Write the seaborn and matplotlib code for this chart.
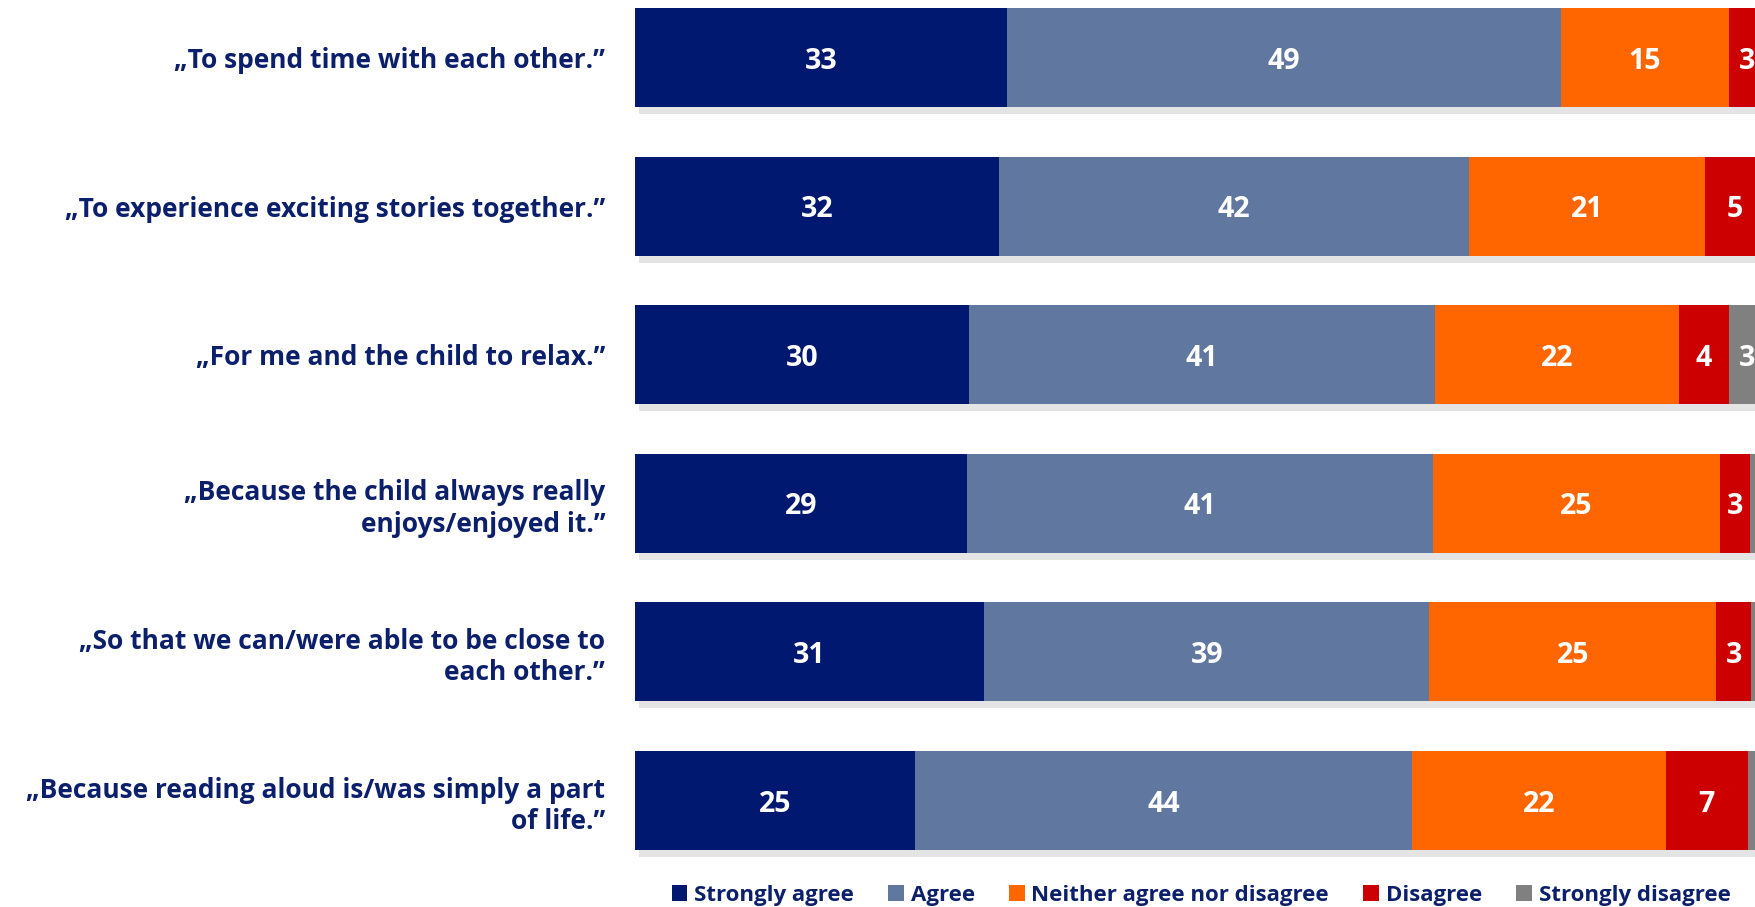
import matplotlib
matplotlib.use('Agg')
import matplotlib.pyplot as plt
import matplotlib.patheffects as pe
from matplotlib.patches import Patch
from matplotlib import font_manager
import numpy as np
import seaborn as sns

# data (percent)
statements = ['\u201eTo spend time with each other.\u201d',
              '\u201eTo experience exciting stories together.\u201d',
              '\u201eFor me and the child to relax.\u201d',
              '\u201eBecause the child always really\nenjoys/enjoyed it.\u201d',
              '\u201eSo that we can/were able to be close to\neach other.\u201d',
              '\u201eBecause reading aloud is/was simply a part\nof life.\u201d']
strongly_agree = [32.9, 32.2, 29.6, 29.4, 30.9, 24.8]
agree = [49.0, 41.6, 41.2, 41.2, 39.4, 44.0]
neither = [14.9, 20.9, 21.6, 25.4, 25.4, 22.4]
disagree = [3.2, 5.3, 4.4, 2.7, 3.1, 7.3]
strongly_disagree = [0.0, 0.0, 3.2, 1.2, 1.2, 1.5]
answers = ['Strongly agree', 'Agree', 'Neither agree nor disagree', 'Disagree', 'Strongly disagree']
colors = ['#001870', '#6077a0', '#ff6600', '#cc0000', '#808080']

navy = '#0c1f6b'

sns.set_style('white')
avail = {f.name for f in font_manager.fontManager.ttflist}
font_name = next(n for n in ['Liberation Sans Narrow', 'Open Sans', 'DejaVu Sans'] if n in avail)
plt.rcParams['font.family'] = [font_name, 'DejaVu Sans']

fig = plt.figure(figsize=(17.56, 9.07), dpi=100)
ax = fig.add_axes([635 / 1756, 47 / 907, 1121 / 1756, 860 / 907])

vals = np.array([strongly_agree, agree, neither, disagree, strongly_disagree])
cum = np.cumsum(vals, axis=0)

# stacked bars: draw the cumulative totals from longest to shortest
for i in reversed(range(len(answers))):
    sns.barplot(x=cum[i], y=statements, orient='h', color=colors[i], saturation=1,
                width=0.666, linewidth=0, ax=ax)
    if i == len(answers) - 1:
        # soft drop shadow under the full bar
        for p in ax.patches:
            p.set_path_effects([pe.SimplePatchShadow(offset=(3, -5), shadow_rgbFace='#888888', alpha=0.22),
                                pe.Normal()])

# value labels
for i in range(len(answers)):
    for j in range(len(statements)):
        v = vals[i, j]
        if v < 2.5:
            continue
        ax.text(cum[i, j] - v / 2, j, f'{v:.0f}', ha='center', va='center_baseline',
                color='white', fontsize=20.5, fontweight='bold')

ax.set_xlim(0, 99.2)
ax.set_ylim(5.4, -0.387)
ax.set_xlabel('')
ax.set_ylabel('')
ax.set_xticks([])
ax.tick_params(axis='y', length=0, pad=21.5)
for t in ax.get_yticklabels():
    t.set_fontsize(19)
    t.set_fontweight('bold')
    t.set_color(navy)
    t.set_linespacing(1.2)
sns.despine(ax=ax, left=True, bottom=True)

handles = [Patch(facecolor=c, edgecolor='none') for c in colors]
fig.legend(handles, answers, loc='center', bbox_to_anchor=(0.684, 0.013), ncol=5, frameon=False,
           handlelength=0.7, handleheight=0.7, handletextpad=0.3, columnspacing=1.55,
           prop={'weight': 'bold', 'size': 16}, labelcolor=navy)

fig.savefig('out.png', dpi=100)
